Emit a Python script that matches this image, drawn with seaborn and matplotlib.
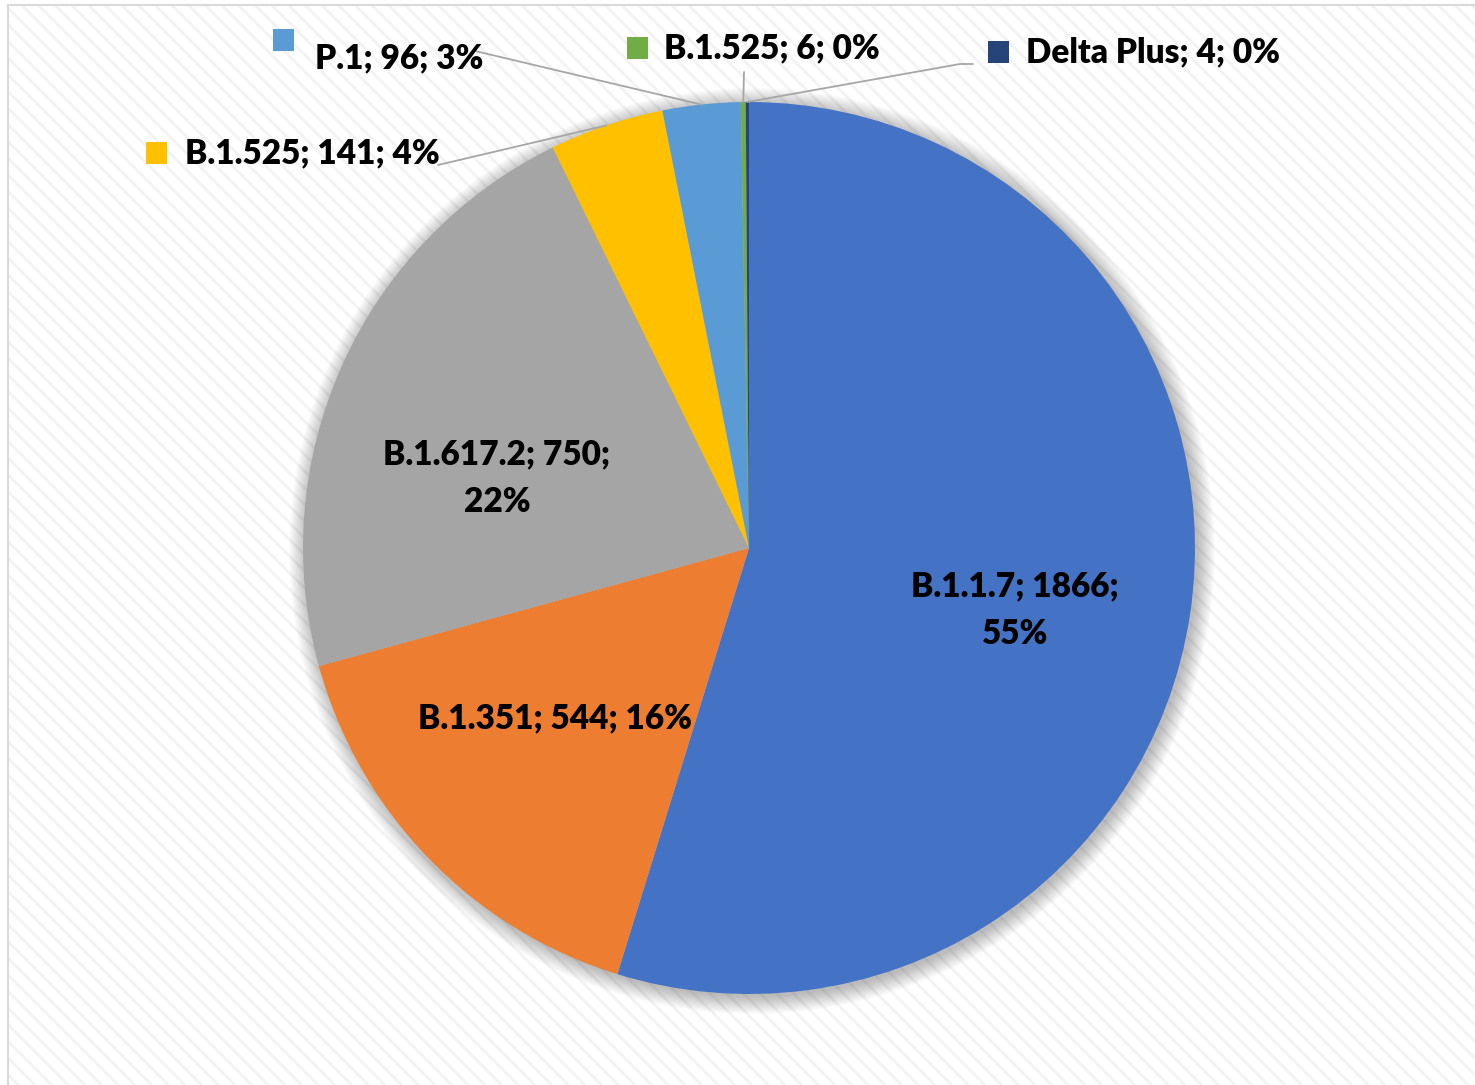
import matplotlib
matplotlib.use('Agg')
import matplotlib.pyplot as plt
import matplotlib.patches as mpatches
import seaborn as sns
import numpy as np

# data
variants = ['B.1.1.7', 'B.1.351', 'B.1.617.2', 'B.1.525', 'P.1', 'B.1.525', 'Delta Plus']
counts = [1866, 544, 750, 141, 96, 6, 4]
colors = ['#4472C4', '#ED7D31', '#A5A5A5', '#FFC000', '#5B9BD5', '#70AD47', '#264478']

W, H = 1475, 1085
cx, cy, R = 749, 548, 446  # pie centre / radius in pixels

sns.set_theme(style='white')
plt.rcParams['font.family'] = ['Lato', 'DejaVu Sans']
plt.rcParams['hatch.linewidth'] = 2.0

fig = plt.figure(figsize=(W / 100, H / 100), dpi=100)
fig.patch.set_facecolor('white')


def fpos(x, y):
    # pixel position (top-left origin) -> figure fraction
    return x / W, 1 - y / H


def dpos(x, y):
    # pixel position -> pie data coords
    return (x - cx) / R, (cy - y) / R


# striped background + light border
bx, by = fpos(8, 1085 + 20)
bg = mpatches.Rectangle((bx, by), 1.2, (1085 + 20 - 5) / H, transform=fig.transFigure,
                        facecolor='white', edgecolor='#f3f3f3', hatch='\\\\', lw=0, zorder=0)
fig.add_artist(bg)
border = mpatches.Rectangle((bx, by), 1.2, (1085 + 20 - 5) / H, transform=fig.transFigure,
                            fill=False, edgecolor='#d9d9d9', lw=1.5, zorder=1)
fig.add_artist(border)

ax = fig.add_axes([0, 0, 1, 1])
ax.patch.set_alpha(0)

# soft shadow
for i in range(14):
    ax.add_patch(mpatches.Circle((3 / R, -3 / R), 1 + i * 1.3 / R, color='black',
                                 alpha=0.018, lw=0, zorder=1))

wedges, _ = ax.pie(counts, colors=colors, startangle=90, counterclock=False,
                   wedgeprops=dict(linewidth=0, zorder=2))
ax.set_xlim(-cx / R, (W - cx) / R)
ax.set_ylim(-(H - cy) / R, cy / R)
ax.set_aspect('equal')
ax.axis('off')

total = sum(counts)
pcts = [round(100 * c / total) for c in counts]
fs = 24
fw = 'heavy'

# labels inside the big slices
inside = {0: ((1015, 610), '{}; {};\n{}%'),
          2: ((497, 478), '{}; {};\n{}%'),
          1: ((555, 718), '{}; {}; {}%')}
for i, ((x, y), fmt) in inside.items():
    ax.text(*dpos(x, y), fmt.format(variants[i], counts[i], pcts[i]), ha='center', va='center',
            fontsize=fs, fontweight=fw, color='black', linespacing=1.6, zorder=5)

# outside labels with legend keys and leader lines
outside = {4: ((283, 40), (315, 58), [(475, 51)]),
           3: ((156, 153), (185, 153), [(438, 165)]),
           5: ((637, 48), (664, 48), [(744, 72)]),
           6: ((998, 52), (1026, 52), [(973, 64), (960, 64)])}
for i, (sq, tx, pts) in outside.items():
    s = 21
    x0, y0 = fpos(sq[0] - s / 2, sq[1] + s / 2)
    fig.add_artist(mpatches.Rectangle((x0, y0), s / W, s / H, transform=fig.transFigure,
                                      facecolor=colors[i], lw=0, zorder=6))
    ax.text(*dpos(*tx), '{}; {}; {}%'.format(variants[i], counts[i], pcts[i]), ha='left',
            va='center', fontsize=fs, fontweight=fw, color='black', zorder=5)
    w = wedges[i]
    mid = np.deg2rad((w.theta1 + w.theta2) / 2)
    xs = [dpos(*p)[0] for p in pts] + [np.cos(mid)]
    ys = [dpos(*p)[1] for p in pts] + [np.sin(mid)]
    ax.plot(xs, ys, color='#a6a6a6', lw=1.3, zorder=4)

plt.savefig('out.png', dpi=100, facecolor='white')
plt.close()
